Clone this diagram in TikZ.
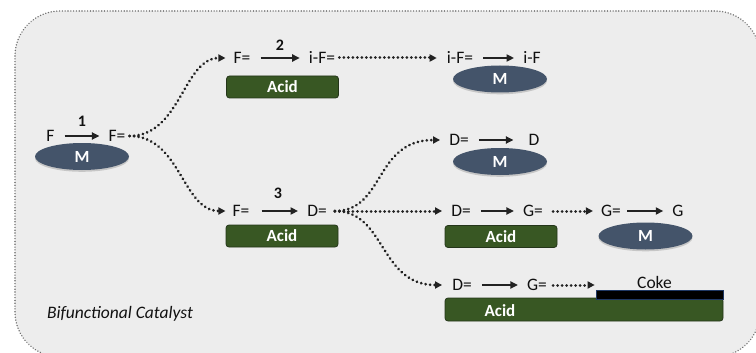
\documentclass[tikz,border=0pt]{standalone}
\usepackage{fontspec}
\setmainfont{Carlito}
\usetikzlibrary{arrows.meta,shadows,shapes.geometric,calc}
\definecolor{bgc}{HTML}{EDEDED}
\definecolor{bgedge}{HTML}{707070}
\definecolor{mfill}{HTML}{44546A}
\definecolor{afill}{HTML}{385723}
\definecolor{aedge}{HTML}{24351A}
\definecolor{arr}{HTML}{222222}
\definecolor{txt}{HTML}{111111}
\definecolor{cokeedge}{HTML}{1F3864}
\begin{document}
\begin{tikzpicture}[x=1pt,y=-1pt,
  lbl/.style={inner sep=0pt, text height=11.2pt, text depth=0pt, font=\fontsize{17.5}{20}\selectfont, text=txt},
  num/.style={inner sep=0pt, font=\bfseries\fontsize{16}{18}\selectfont, text=txt},
  rx/.style={draw=arr, line width=2pt, -{Triangle[length=7.5pt,width=7pt]}, shorten <=10pt, shorten >=9pt},
  dotc/.style={draw=arr, line width=3pt, line cap=round, dash pattern=on 0.01pt off 4.5pt, -{Triangle[length=7pt,width=7pt]}},
  metal/.style={ellipse, fill=mfill, minimum width=94pt, minimum height=27pt, inner sep=0pt, text height=11.2pt, text depth=0pt,
    font=\bfseries\fontsize{17}{19}\selectfont, text=white,
    drop shadow={opacity=0.35, shadow xshift=0pt, shadow yshift=-1.8pt}},
  acid/.style={rectangle, rounded corners=3pt, fill=afill, draw=aedge, line width=0.8pt, minimum width=112pt, minimum height=22pt,
    inner sep=0pt, text height=11.2pt, text depth=0pt, font=\bfseries\fontsize{17}{19}\selectfont, text=white},
  wlbl/.style={inner sep=0pt, text height=11.2pt, text depth=0pt, font=\bfseries\fontsize{17}{19}\selectfont, text=white},
  coke/.style={rectangle, fill=black, draw=cokeedge, line width=0.7pt, minimum width=127pt, minimum height=9pt, inner sep=0pt},
  bgbox/.style={fill=bgc, draw=bgedge, line width=1.6pt, line cap=round, dash pattern=on 0.01pt off 2.8pt, rounded corners=45pt}
]
\useasboundingbox (0,0) rectangle (756,353);
\clip (0,0) rectangle (756,353);
\fill[white] (0,0) rectangle (756,353);
\draw[bgbox] (15,11) rectangle (760,357);

% step 1
\node[lbl] (F) at (50.5,136) {F};
\node[lbl] (F1) at (117,136) {F=};
\node[num] (n1) at (82,121) {1};
\node[metal] (M1) at (82,156.5) {M};

% step 2
\node[lbl] (FA) at (242,58) {F=};
\node[lbl] (iFA) at (322,58) {i-F=};
\node[num] (n2) at (280,45) {2};
\node[acid] (A1) at (282.5,87) {Acid};
\node[lbl] (iFB) at (460,58) {i-F=};
\node[lbl] (iF) at (532,58) {i-F};
\node[metal] (M2) at (500,79) {M};

% D= -> D
\node[lbl] (D1) at (459,140) {D=};
\node[lbl] (D1b) at (534,140) {D};
\node[metal] (M3) at (500,161.5) {M};

% step 3
\node[lbl] (F3) at (241,211) {F=};
\node[lbl] (D3) at (317,211) {D=};
\node[num] (n3) at (278,193) {3};
\node[acid] (A3) at (282,236) {Acid};

% D= -> G= -> G
\node[lbl] (D4) at (461,211) {D=};
\node[lbl] (G4) at (533,211) {G=};
\node[acid] (A4) at (501,236.5) {Acid};
\node[lbl] (G5) at (611,211) {G=};
\node[lbl] (G6) at (678,211) {G};
\node[metal] (M4) at (645.5,236) {M};

% coke row
\node[lbl] (D5) at (462,285) {D=};
\node[lbl] (G7) at (537,285) {G=};
\node[lbl] (CK) at (654.5,283) {Coke};
\node[acid, minimum width=278pt, minimum height=23pt] (A5) at (584,309.5) {};
\node[coke] (CB) at (659.5,294.5) {};
\node[wlbl] (A5t) at (500,311) {Acid};

\node[inner sep=0pt, font=\itshape\fontsize{17.5}{20}\selectfont, text=txt] (BC) at (120,314) {Bifunctional Catalyst};

% reaction arrows
\draw[rx] (F) -- (F1);
\draw[rx] (FA) -- (iFA);
\draw[rx] (iFB) -- (iF);
\draw[rx, shorten >=15pt] (D1) -- (D1b);
\draw[rx, shorten <=12pt] (F3) -- (D3);
\draw[rx] (D4) -- (G4);
\draw[rx, shorten <=6pt] (G5) -- (G6);
\draw[rx] (D5) -- (G7);

% dotted connectors
\draw[dotc, shorten <=4pt, shorten >=8pt] (F1.east) .. controls +(55,0) and +(-50,0) .. (FA.west);
\draw[dotc, shorten <=4pt, shorten >=7pt] (F1.east) .. controls +(55,0) and +(-50,0) .. (F3.west);
\draw[dotc, shorten <=4pt, shorten >=10pt] (iFA.east) -- (iFB.west);
\draw[dotc, shorten <=8pt, shorten >=9pt] (D3.east) .. controls +(58,0) and +(-75,0) .. (D1.west);
\draw[dotc, shorten <=8pt, shorten >=9pt] (D3.east) -- (D4.west);
\draw[dotc, shorten <=8pt, shorten >=10pt] (D3.east) .. controls +(59,0) and +(-73,0) .. (D5.west);
\draw[dotc, shorten <=10pt, shorten >=8pt] (G4.east) -- (G5.west);
\draw[dotc, shorten <=6pt, shorten >=1pt] (G7.east) -- (G7 -| CB.west);
\end{tikzpicture}
\end{document}
